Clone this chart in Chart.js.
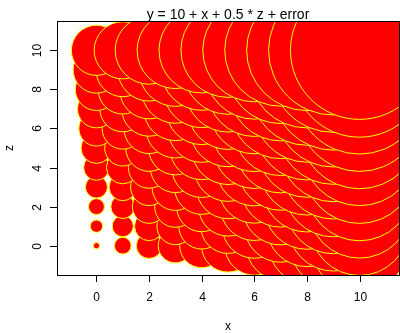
<!DOCTYPE html>
<html>
<head>
<meta charset="utf-8">
<script src="https://cdn.jsdelivr.net/npm/chart.js@4"></script>
<style>
  body { margin: 0; background: #fff; }
</style>
</head>
<body>
<canvas id="myChart" width="400" height="333"></canvas>
<script>
// grid of x and z values
const xValues = [0, 1, 2, 3, 4, 5, 6, 7, 8, 9, 10];
const zValues = [0, 1, 2, 3, 4, 5, 6, 7, 8, 9, 10];
// y response, one row per x value (z = 0..10)
const yByX = [
  [10.0, 10.7, 11.1, 11.8, 12.2, 12.8, 13.3, 13.6, 14.1, 14.6, 15.0],
  [11.2, 11.7, 12.0, 12.4, 13.0, 13.4, 14.0, 14.5, 14.9, 15.4, 15.8],
  [12.2, 12.6, 13.1, 13.5, 14.0, 14.6, 15.0, 15.5, 16.0, 16.4, 17.0],
  [13.2, 13.5, 14.0, 14.6, 15.0, 15.4, 16.0, 16.5, 17.0, 17.6, 18.0],
  [14.3, 14.5, 15.0, 15.5, 16.1, 16.5, 17.0, 17.4, 18.0, 18.5, 19.0],
  [15.3, 15.5, 16.0, 16.5, 17.0, 17.6, 18.0, 18.5, 19.0, 19.4, 20.0],
  [16.0, 16.6, 17.0, 17.5, 18.0, 18.5, 19.1, 19.5, 20.0, 20.5, 21.0],
  [17.1, 17.5, 18.0, 18.4, 19.0, 19.5, 20.0, 20.6, 21.0, 21.5, 22.0],
  [17.9, 18.5, 19.0, 19.5, 20.1, 20.5, 21.0, 21.4, 22.0, 22.5, 23.0],
  [19.0, 19.5, 20.0, 20.6, 21.0, 21.5, 22.0, 22.5, 23.1, 23.5, 24.0],
  [20.1, 20.5, 21.0, 21.5, 22.0, 22.4, 23.0, 23.5, 24.0, 24.6, 25.0]
];
const xTicks = [0, 2, 4, 6, 8, 10];
const zTicks = [0, 2, 4, 6, 8, 10];

const titleText = "y = 10 + x + 0.5 * z + error";
const FONT = '"Liberation Sans", Arial, sans-serif';

// bubble radius in px from the y value
const radiusFor = (y) => 4.4 * (y - 9.3);

// drawn row by row: z outer, x inner
const points = [];
zValues.forEach((z, j) => {
  xValues.forEach((x, i) => {
    points.push({ x: x, y: z, r: radiusFor(yByX[i][j]) });
  });
});

const rAxes = {
  id: "rAxes",
  afterDraw(chart) {
    const ctx = chart.ctx;
    const a = chart.chartArea;
    const xs = chart.scales.x, ys = chart.scales.y;
    ctx.save();
    ctx.strokeStyle = "#000";
    ctx.lineWidth = 1;
    ctx.strokeRect(a.left + 0.5, a.top + 0.5, a.right - a.left, a.bottom - a.top);

    ctx.fillStyle = "#000";
    ctx.font = "12px " + FONT;
    ctx.textAlign = "center";
    ctx.textBaseline = "middle";
    xTicks.forEach(t => {
      const px = Math.round(xs.getPixelForValue(t)) + 0.5;
      ctx.beginPath();
      ctx.moveTo(px, a.bottom);
      ctx.lineTo(px, a.bottom + 7);
      ctx.stroke();
      ctx.fillText(String(t), px, 298);
    });
    zTicks.forEach(t => {
      const py = Math.round(ys.getPixelForValue(t)) + 0.5;
      ctx.beginPath();
      ctx.moveTo(a.left - 7, py);
      ctx.lineTo(a.left, py);
      ctx.stroke();
      ctx.save();
      ctx.translate(38, py);
      ctx.rotate(-Math.PI / 2);
      ctx.fillText(String(t), 0, 0);
      ctx.restore();
    });

    // axis titles
    ctx.fillText("x", (a.left + a.right) / 2, 327);
    ctx.save();
    ctx.translate(10, (a.top + a.bottom) / 2);
    ctx.rotate(-Math.PI / 2);
    ctx.fillText("z", 0, 0);
    ctx.restore();

    // main title
    ctx.font = "14px " + FONT;
    ctx.textBaseline = "alphabetic";
    ctx.fillText(titleText, (a.left + a.right) / 2, 19);
    ctx.restore();
  }
};

const ctx = document.getElementById("myChart").getContext("2d");
new Chart(ctx, {
  type: "bubble",
  data: {
    datasets: [{
      data: points,
      backgroundColor: "#FF0000",
      borderColor: "#FFFF00",
      borderWidth: 1,
      hoverRadius: 0,
      clip: 0
    }]
  },
  options: {
    responsive: false,
    animation: false,
    events: [],
    layout: { autoPadding: false, padding: { left: 57, top: 21, right: 1, bottom: 58 } },
    plugins: {
      legend: { display: false },
      tooltip: { enabled: false }
    },
    scales: {
      x: { type: "linear", min: -1.5, max: 11.5, display: false },
      y: { type: "linear", min: -1.5, max: 11.5, display: false }
    }
  },
  plugins: [rAxes]
});
</script>
</body>
</html>
